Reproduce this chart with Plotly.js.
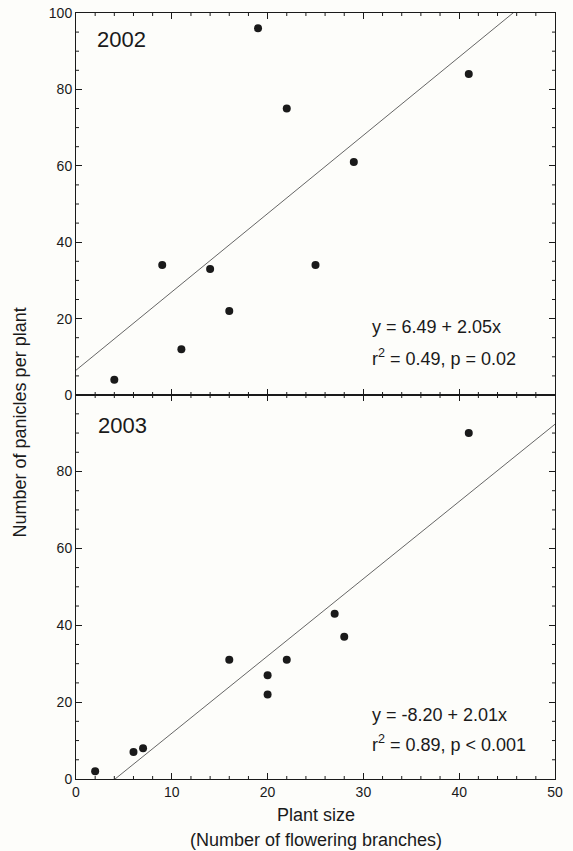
<!DOCTYPE html>
<html>
<head>
<meta charset="utf-8">
<script src="https://cdn.plot.ly/plotly-3.0.1.min.js"></script>
<style>html,body{margin:0;padding:0;background:#fdfdfa;}#chart{width:573px;height:851px;}</style>
</head>
<body>
<div id="chart"></div>
<script>
// ---- data ----
const size2002 = [4, 9, 11, 14, 16, 19, 22, 25, 29, 41];
const panicles2002 = [4, 34, 12, 33, 22, 96, 75, 34, 61, 84];
const fit2002 = {intercept: 6.49, slope: 2.05};
const eq2002 = ['y = 6.49 + 2.05x', 'r<sup>2</sup> = 0.49, p = 0.02'];

const size2003 = [2, 6, 7, 16, 20, 20, 22, 27, 28, 41];
const panicles2003 = [2, 7, 8, 31, 27, 22, 31, 43, 37, 90];
const fit2003 = {intercept: -8.20, slope: 2.01};
const eq2003 = ['y = -8.20 + 2.01x', 'r<sup>2</sup> = 0.89, p < 0.001'];

const xRange = [0, 50];
const yRangeTop = [0, 100];
const yRangeBottom = [0, 99.9];
const xMinorStep = 2, yMinorStep = 5;

const FONT = 'Liberation Sans, Arial, sans-serif';
const INK = '#1a1a1a';

function fitLine(f) {
  return {x: xRange.slice(), y: xRange.map(v => f.intercept + f.slope * v)};
}

const l02 = fitLine(fit2002), l03 = fitLine(fit2003);

const markerStyle = {color: INK, size: 8};
const lineStyle = {color: '#555', width: 0.9};

const traces = [
  {x: l02.x, y: l02.y, xaxis: 'x2', yaxis: 'y2', mode: 'lines', line: lineStyle, hoverinfo: 'skip'},
  {x: size2002, y: panicles2002, xaxis: 'x2', yaxis: 'y2', mode: 'markers', marker: markerStyle},
  {x: l03.x, y: l03.y, xaxis: 'x', yaxis: 'y', mode: 'lines', line: lineStyle, hoverinfo: 'skip'},
  {x: size2003, y: panicles2003, xaxis: 'x', yaxis: 'y', mode: 'markers', marker: markerStyle}
];

const W = 573, H = 851, M = {l: 76, r: 18, t: 13, b: 72};
const plotW = W - M.l - M.r, plotH = H - M.t - M.b;
const split = (779 - 395) / 766;

// minor tick marks as thin shapes (3 px long, pointing inward)
const shapes = [];
const mLenX = 3 / plotH, mLenY = 3 / plotW;
const tickLine = {color: INK, width: 1};
for (let v = xMinorStep; v < xRange[1]; v += xMinorStep) {
  if (v % 10 === 0) continue;
  [[0, 1], [split, 1], [split, -1], [1, -1]].forEach(([base, dir]) => {
    shapes.push({type: 'line', xref: 'x', yref: 'paper', x0: v, x1: v, y0: base, y1: base + dir * mLenX, line: tickLine});
  });
}
for (let v = yMinorStep; v < 100; v += yMinorStep) {
  if (v % 20 === 0) continue;
  ['y', 'y2'].forEach(yr => {
    shapes.push({type: 'line', xref: 'paper', yref: yr, x0: 0, x1: mLenY, y0: v, y1: v, line: tickLine});
    shapes.push({type: 'line', xref: 'paper', yref: yr, x0: 1, x1: 1 - mLenY, y0: v, y1: v, line: tickLine});
  });
}

function ax(extra) {
  return Object.assign({
    showline: true, linecolor: INK, linewidth: 1, mirror: 'ticks',
    ticks: 'inside', ticklen: 6, tickwidth: 1, tickcolor: INK,
    showgrid: false, zeroline: false, tickmode: 'linear',
    tickfont: {family: FONT, size: 14, color: INK}
  }, extra);
}

const layout = {
  width: W, height: H,
  margin: M,
  paper_bgcolor: '#fdfdfa', plot_bgcolor: 'rgba(0,0,0,0)',
  showlegend: false,
  xaxis: ax({domain: [0, 1], anchor: 'y', range: xRange, tick0: 0, dtick: 10}),
  yaxis: ax({domain: [0, split], anchor: 'x', range: yRangeBottom, tick0: 0, dtick: 20}),
  xaxis2: ax({domain: [0, 1], anchor: 'y2', range: xRange, tick0: 0, dtick: 10, showticklabels: false}),
  yaxis2: ax({domain: [split, 1], anchor: 'x2', range: yRangeTop, tick0: 0, dtick: 20}),
  shapes: shapes,
  annotations: [
    {xref: 'x2', yref: 'y2', x: 2.0, y: 93, text: '2002', showarrow: false, xanchor: 'left', yanchor: 'middle',
     font: {family: FONT, size: 22, color: INK}},
    {xref: 'x2', yref: 'y2', x: 30.7, y: 17.8, text: eq2002[0], showarrow: false, xanchor: 'left', yanchor: 'middle',
     font: {family: FONT, size: 18, color: INK}},
    {xref: 'x2', yref: 'y2', x: 30.7, y: 9.9, text: eq2002[1], showarrow: false, xanchor: 'left', yanchor: 'middle',
     font: {family: FONT, size: 18, color: INK}},
    {xref: 'x', yref: 'y', x: 2.1, y: 92, text: '2003', showarrow: false, xanchor: 'left', yanchor: 'middle',
     font: {family: FONT, size: 22, color: INK}},
    {xref: 'x', yref: 'y', x: 30.7, y: 16.6, text: eq2003[0], showarrow: false, xanchor: 'left', yanchor: 'middle',
     font: {family: FONT, size: 18, color: INK}},
    {xref: 'x', yref: 'y', x: 30.7, y: 9.2, text: eq2003[1], showarrow: false, xanchor: 'left', yanchor: 'middle',
     font: {family: FONT, size: 18, color: INK}},
    {xref: 'paper', yref: 'paper', x: -0.117, y: 0.4654, text: 'Number of panicles per plant', textangle: -90,
     showarrow: false, xanchor: 'center', yanchor: 'middle', font: {family: FONT, size: 18, color: INK}},
    {xref: 'paper', yref: 'paper', x: 0.5, y: -0.047, text: 'Plant size',
     showarrow: false, xanchor: 'center', yanchor: 'middle', font: {family: FONT, size: 18, color: INK}},
    {xref: 'paper', yref: 'paper', x: 0.5, y: -0.080, text: '(Number of flowering branches)',
     showarrow: false, xanchor: 'center', yanchor: 'middle', font: {family: FONT, size: 18, color: INK}}
  ]
};

Plotly.newPlot('chart', traces, layout, {displayModeBar: false});
</script>
</body>
</html>
